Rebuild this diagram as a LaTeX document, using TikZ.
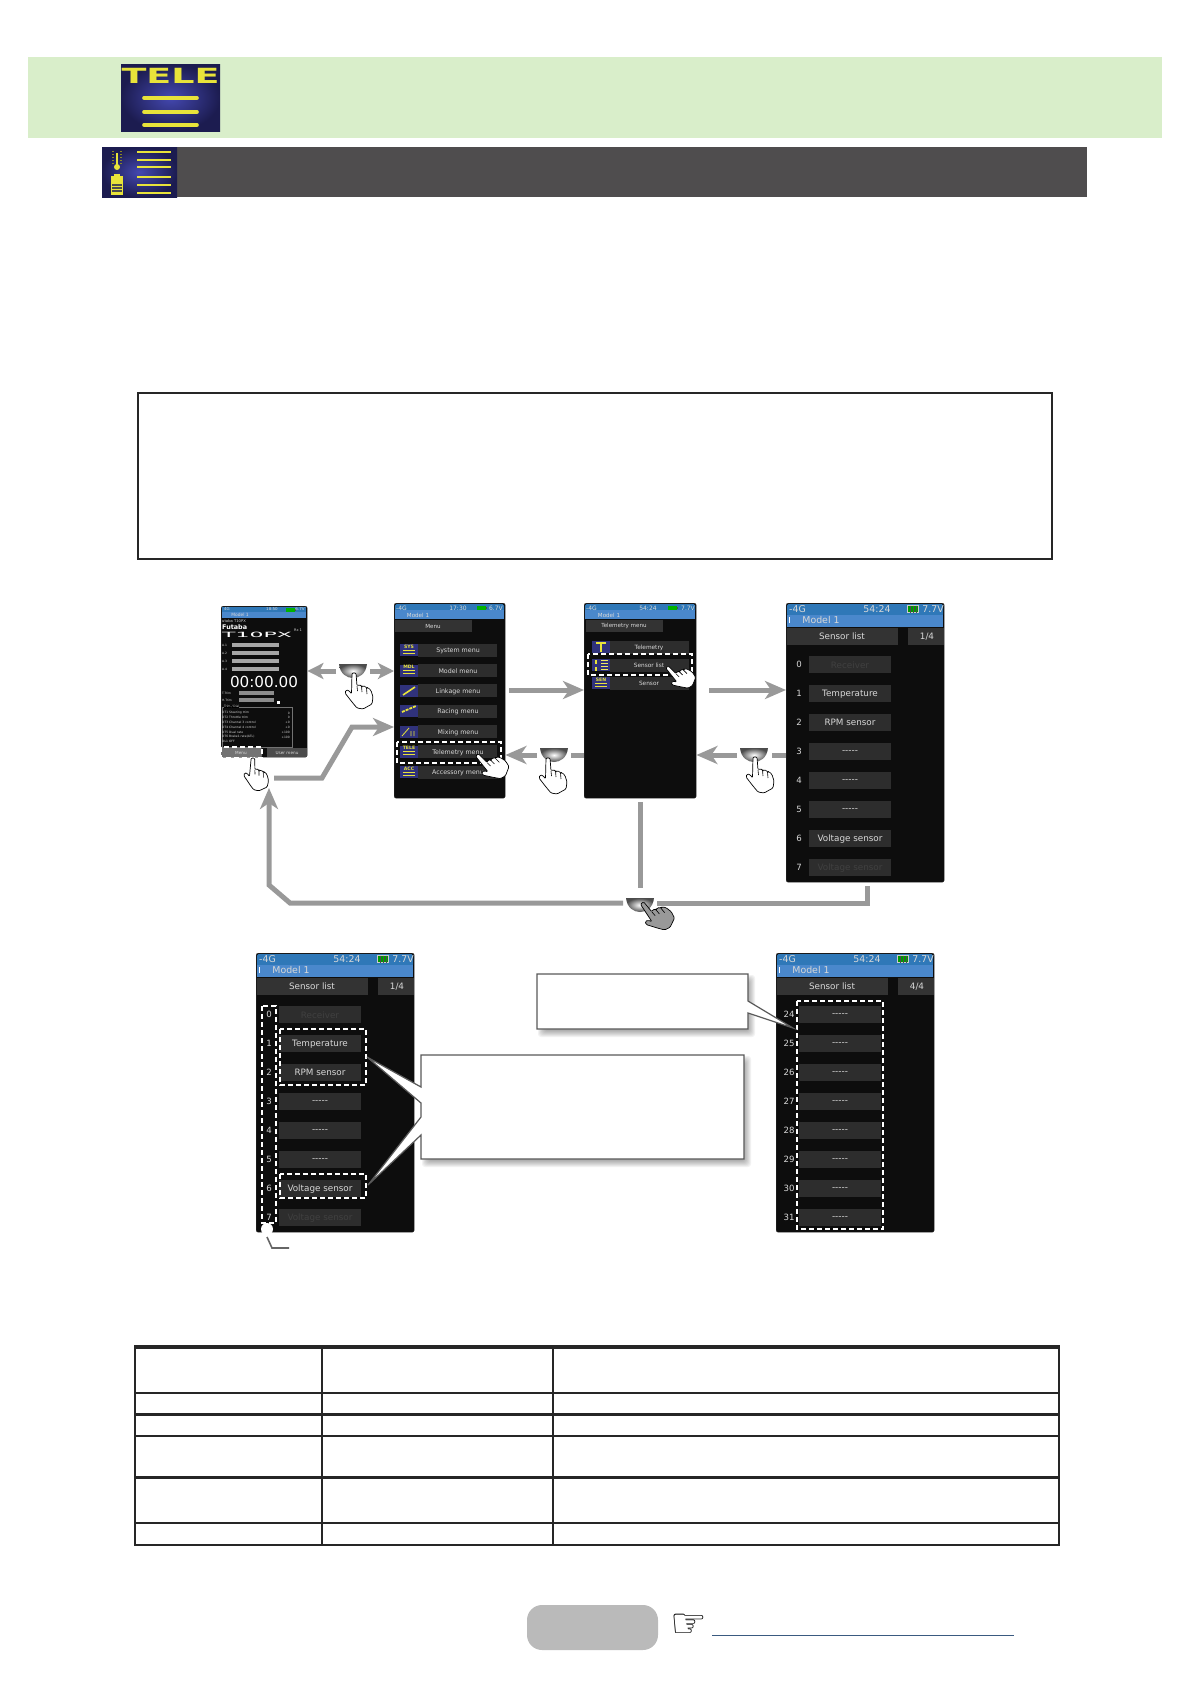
\documentclass[tikz,border=0pt]{standalone}
\usepackage{fontspec}
\setmainfont{DejaVu Sans}
\usepackage{tikz}
\usepackage{xcolor}
\usetikzlibrary{arrows.meta}
\definecolor{bandgreen}{HTML}{D9EECA}
\definecolor{bargrey}{HTML}{4F4D4E}
\definecolor{arrowgrey}{HTML}{999999}
\definecolor{statblue}{HTML}{2F78B8}
\definecolor{modblue}{HTML}{4A88CC}
\definecolor{tabgrey}{HTML}{333333}
\definecolor{rowgrey}{HTML}{2D2D2D}
\definecolor{dimgrey}{HTML}{404040}
\definecolor{scrtext}{HTML}{D8D8D8}
\definecolor{icyellow}{HTML}{E8E33A}
\definecolor{navyin}{HTML}{4448B0}
\definecolor{navyout}{HTML}{1C1C50}
\definecolor{reflink}{HTML}{3A5A80}
\tikzset{
  pics/hand/.style={code={
    \draw[line width=.7,fill=#1,rounded corners=1.2pt,line join=round] (-2,0) -- (2,0) -- (3,13) -- (5,11.5) -- (7.5,13) -- (8,14) -- (10,12.5) -- (12.5,15) -- (14,14.5) -- (17,17.5) -- (19,24) -- (18,31) -- (9,36) -- (3,35) -- (-2,29) -- (-9,20) -- (-8,17) -- (-5,17.5) -- (-2.5,21) -- cycle;
    \draw[line width=.6] (3,13) -- (3.5,18) (7.5,13) -- (8,19) (12.5,15) -- (13,21);
  }},
  pics/bowl/.style={code={
    \shade[outer color=black!70,inner color=white] (-14,-7) -- (14,-7) .. controls (13,3) and (6,7) .. (0,7) .. controls (-6,7) and (-13,3) .. (-14,-7) -- cycle;
  }},
  pics/batt/.style={code={
    \fill[green!70!black] (0,0) rectangle (9,4);
    \fill[black!70] (9,1) rectangle (10,3);
  }}
}
\begin{document}
\begin{tikzpicture}[x=1pt,y=-1pt,
  screen/.style={draw=black!80,fill=black!95,rounded corners=2pt,inner sep=0pt,anchor=north west},
  stxt/.style={inner sep=0pt,text=scrtext,font=\fontsize{#1}{#1}\selectfont},
  grayline/.style={draw=arrowgrey,line width=5pt},
  grayarrow/.style={draw=arrowgrey,line width=5pt,-{Stealth[length=21pt,width=18pt,inset=6pt]}},
  shortarrow/.style={draw=arrowgrey,line width=5pt,-{Stealth[length=16pt,width=16pt,inset=4pt]}},
  dashbox/.style={draw=white,line width=1.4pt,dash pattern=on 5pt off 3pt},
  callout/.style={draw=black!65,line width=1.2pt,fill=white}]
\useasboundingbox (0,0) rectangle (1190,1684);
% header
\fill[bandgreen] (28,57) rectangle (1162,138);
\shade[inner color=navyin,outer color=navyout] (121,64) rectangle (220,131);
\node[inner sep=0pt,text=icyellow,font=\fontsize{19}{19}\selectfont\bfseries] (teletitle) at (170.5,76) {\scalebox{1.92}[1.1]{TELE}};
\foreach \y in {98,112,125}
  \draw[icyellow,line width=3.6pt,line cap=round] (144,\y) -- (197,\y);
\fill[bargrey] (177,147) rectangle (1087,197);
\shade[inner color=navyin,outer color=navyout] (102,147) rectangle (177,197);
\draw[icyellow,line width=2.6pt] (117,153) -- (117,165);
\fill[icyellow] (117,167) circle (3pt);
\foreach \y in {151,154,157,160,163}
  \draw[icyellow!60!black,line width=.7pt] (112,\y) -- (114,\y) (120,\y) -- (122,\y);
\fill[icyellow] (111,176) rectangle (123,195);
\fill[icyellow] (114,174) rectangle (120,176);
\foreach \y in {185,188,191}
  \draw[black!70,line width=1.2pt] (112,\y) -- (122,\y);
\foreach \y in {152,160,167,177,185,193}
  \draw[icyellow,line width=1.7pt] (137,\y) -- (171,\y);
% note box
\draw[black!85,line width=2.4pt] (138,393) rectangle (1052,559);
% home screen
\node[screen,minimum width=86pt,minimum height=151pt] (scra) at (221,606) {};
\fill[statblue] (222,607) rectangle (306,612);
\fill[modblue] (222,612) rectangle (306,618);
\node[stxt=4,anchor=west] (agtxt) at (224,609) {4G};
\node[stxt=4] (atime) at (272,609) {18:50};
\pic at (286,607.5) {batt};
\node[stxt=4] (avolt) at (300,609) {6.7V};
\node[stxt=4.4] (amodel) at (240,615) {Model 1};
\node[stxt=3.7,anchor=west] (amodelname) at (222,621) {utaba T10PX};
\node[stxt=6.4,anchor=west,text=white,font=\fontsize{6.4}{7}\selectfont\bfseries] (afutaba) at (222,627) {Futaba};
\node[stxt=8,anchor=west,text=white] (atenpx) at (222,635) {\scalebox{2.75}[.9]{T10PX}};
\node[stxt=3.5] (arx) at (298,630) {Rx 1};
\foreach \y/\lab in {645/A.1,653/A.2,661/A.3,669/A.4} {
  \node[stxt=3,anchor=west] (ag\lab) at (222,\y) {\lab};
  \fill[black!35] (232,\y-1.7) rectangle (279,\y+1.7);
}
\node[stxt=15.2,text=white] (aclock) at (264,682) {00:00.00};
\foreach \y/\lab in {693/T.Trim,700/H.Trim} {
  \node[stxt=3,anchor=west] (at\lab) at (222,\y) {\lab};
  \fill[black!45] (239,\y-2) rectangle (274,\y+2);
}
\fill[white] (276.5,700.5) rectangle (279.5,703.5);
\draw[black!55,line width=.5pt] (222,707) rectangle (292,747);
\node[stxt=3,anchor=west,fill=black] (adial) at (224,706.5) {Trim / Dial};
\foreach \y/\lab/\val in {713/DT1 Steering trim/0,717.5/DT2 Throttle trim/0,722/DT3 Channel 3 control/+0,727/DT4 Channel 4 control/+0,732/DT5 Dual rate/+100,737/DT6 Brake1 rate(ATL)/+100,741.5/DL1 OFF/} {
  \node[stxt=3,anchor=west] (al\y) at (222,\y) {\lab};
  \node[stxt=3,anchor=east] (av\y) at (290,\y) {\val};
}
\fill[black!55,rounded corners=1pt] (221,748) rectangle (262,757);
\fill[black!70] (267,748) rectangle (307,757);
\node[stxt=4.2] (amenu) at (241,752.5) {Menu};
\node[stxt=4.2] (auser) at (287,752.5) {User menu};
\draw[dashbox] (221,747) rectangle (262,758);
% menu screen
\node[screen,minimum width=111pt,minimum height=195pt] (scrb) at (394,603) {};
\fill[statblue,rounded corners=1.5pt] (395,604) rectangle (504,612);
\fill[modblue] (395,610) rectangle (504,619);
\node[stxt=6,anchor=west] (bgtxt) at (396,608) {-4G};
\node[stxt=6] (btime) at (458,608) {17:30};
\pic at (477,606) {batt};
\node[stxt=6] (bvolt) at (496,608) {6.7V};
\node[stxt=5.6] (bmodel) at (418,615) {Model 1};
\fill[tabgrey] (395,620) rectangle (472,632);
\node[stxt=5.6] (bmenutab) at (433,626) {Menu};
\foreach \i/\ic/\lab in {0/SYS/System menu,1/MDL/Model menu,2/{}/Linkage menu,3/{}/Racing menu,4/{}/Mixing menu,5/TELE/Telemetry menu,6/ACC/Accessory menu} {
  \pgfmathsetmacro{\yy}{650.3+20.3*\i}
  \fill[rowgrey] (418,\yy-6.5) rectangle (497,\yy+6.5);
  \fill[navyin!70!black] (400,\yy-6) rectangle (418,\yy+6);
  \node[stxt=6.3] (blab\i) at (458,\yy+1) {\lab};
  \node[stxt=4.6,text=icyellow,font=\fontsize{4.6}{5}\selectfont\bfseries] (bic\i) at (409,\yy-3.5) {\ic};
}
\foreach \i in {0,1,5,6}
  \draw[icyellow,line width=.8pt] (403,650.3+20.3*\i) -- (415,650.3+20.3*\i) (403,653.3+20.3*\i) -- (415,653.3+20.3*\i);
\draw[icyellow,line width=1.6pt] (403,695) -- (415,687);
\draw[icyellow,line width=1.8pt,dash pattern=on 3pt off 1pt] (402,712) -- (416,706);
\draw[icyellow,line width=.8pt] (402,736) -- (409,728) (411,736) -- (411,731) (414,736) -- (414,731);
\draw[dashbox] (397,742) rectangle (501,763);
% telemetry screen
\node[screen,minimum width=112pt,minimum height=195pt] (scrc) at (584,603) {};
\fill[statblue,rounded corners=1.5pt] (585,604) rectangle (695,612);
\fill[modblue] (585,610) rectangle (695,619);
\node[stxt=6,anchor=west] (cgtxt) at (586,608) {-4G};
\node[stxt=6] (ctime) at (648,608) {54:24};
\pic at (668,606) {batt};
\node[stxt=6] (cvolt) at (688,608) {7.7V};
\node[stxt=5.6] (cmodel) at (609,615) {Model 1};
\fill[tabgrey] (586,620) rectangle (663,632);
\node[stxt=5.6] (ctab) at (624,626) {Telemetry menu};
\foreach \y/\ic/\lab in {647/{}/Telemetry,665/{}/Sensor list,683/SEN/Sensor} {
  \fill[rowgrey] (610,\y-6.5) rectangle (689,\y+6.5);
  \fill[navyin!70!black] (592,\y-6) rectangle (610,\y+6);
  \node[stxt=5.8] (clab\y) at (649,\y+.5) {\lab};
  \node[stxt=4.6,text=icyellow,font=\fontsize{4.6}{5}\selectfont\bfseries] (cic\y) at (601,\y-3.5) {\ic};
}
\draw[icyellow,line width=2pt] (596,643) -- (606,643) (601,643) -- (601,652);
\foreach \y in {660,663,666,669}
  \draw[icyellow!80!white,line width=.8pt] (601,\y) -- (608,\y);
\draw[icyellow,line width=2pt] (596,660) -- (596,664) (596,667) -- (596,671);
\draw[icyellow,line width=.8pt] (595,683) -- (607,683) (595,686) -- (607,686);
\draw[dashbox] (588,654) rectangle (692,675);
% sensor list screens
\foreach \sx/\sy/\nm/\pg/\rows in {
  0/0/d/1\slash 4/{0/Receiver/dimgrey,1/Temperature/scrtext,2/RPM sensor/scrtext,3/-{}-{}-{}-{}-/scrtext,4/-{}-{}-{}-{}-/scrtext,5/-{}-{}-{}-{}-/scrtext,6/Voltage sensor/scrtext,7/Voltage sensor/dimgrey},
  -530/350/e/1\slash 4/{0/Receiver/dimgrey,1/Temperature/scrtext,2/RPM sensor/scrtext,3/-{}-{}-{}-{}-/scrtext,4/-{}-{}-{}-{}-/scrtext,5/-{}-{}-{}-{}-/scrtext,6/Voltage sensor/scrtext,7/Voltage sensor/dimgrey},
  -10/350/f/4\slash 4/{24/-{}-{}-{}-{}-/scrtext,25/-{}-{}-{}-{}-/scrtext,26/-{}-{}-{}-{}-/scrtext,27/-{}-{}-{}-{}-/scrtext,28/-{}-{}-{}-{}-/scrtext,29/-{}-{}-{}-{}-/scrtext,30/-{}-{}-{}-{}-/scrtext,31/-{}-{}-{}-{}-/scrtext}} {
\begin{scope}[shift={(\sx,\sy)}]
  \node[screen,minimum width=158pt,minimum height=279pt] (scr\nm) at (786,603) {};
  \fill[statblue,rounded corners=1.5pt] (787,604) rectangle (943,616);
  \fill[modblue] (787,615) rectangle (943,627);
  \node[stxt=9.4,anchor=west] (g\nm) at (789,609) {-4G};
  \node[stxt=9.4] (t\nm) at (877,609) {54:24};
  \draw[white!80!black,line width=.7pt,fill=green!60!black] (907,605.5) rectangle (918,612.5);
  \foreach \bx in {910,913,916}
    \draw[black!70,line width=.6pt] (\bx,605.5) -- (\bx,612.5);
  \node[stxt=9.4] (v\nm) at (933,609) {7.7V};
  \draw[white,line width=.8pt] (789,617) -- (789,623);
  \node[stxt=9.4] (m\nm) at (821,620) {Model 1};
  \fill[tabgrey] (787,628) rectangle (898,645);
  \fill[tabgrey] (908,628) rectangle (944,645);
  \node[stxt=8.8] (l\nm) at (842,636) {Sensor list};
  \node[stxt=8.8] (p\nm) at (927,637) {\pg};
  \foreach \n/\lab/\col [count=\k from 0] in \rows {
    \pgfmathsetmacro{\yy}{664+29*\k}
    \fill[rowgrey] (809,\yy-8.5) rectangle (891,\yy+8.5);
    \node[stxt=8.6] (n\nm\k) at (799,\yy) {\n};
    \node[stxt=8.8,text=\col] (b\nm\k) at (850,\yy+.8) {\lab};
  }
\end{scope}
}
\draw[dashbox] (262,1006) rectangle (276,1223);
\draw[dashbox] (280,1029) rectangle (366,1085);
\draw[dashbox] (280,1174) rectangle (366,1198);
\draw[dashbox] (797,1001) rectangle (883,1229);
% leader of the list
\fill[white] (267,1229) circle (6pt);
\coordinate (leadbend) at (272,1248);
\coordinate (leadend) at (289,1248);
\draw[black!60,line width=1.6pt] (267,1237) -- (leadbend) -- (leadend);
% callouts
\foreach \s in {1,...,9} {
  \fill[black,opacity=.05,rounded corners=3pt] (537+10-\s,974+10-\s) rectangle (748+\s-2,1029+\s-1);
  \fill[black,opacity=.05,rounded corners=3pt] (421+10-\s,1055+10-\s) rectangle (744+\s-2,1159+\s-1);
}
\draw[callout] (537,974) -- (748,974) -- (748,1001) -- (793,1028) -- (748,1013) -- (748,1029) -- (537,1029) -- cycle;
\draw[callout] (421,1055) -- (744,1055) -- (744,1159) -- (421,1159) -- (421,1135) -- (368,1185) -- (421,1117) -- (421,1103) -- (367,1057) -- (421,1087) -- cycle;
% arrows of the upper row
\pic (bowla) at (353,671) {bowl};
\pic (handa) at (354,673) {hand=white};
\coordinate (aleft) at (336,671);
\coordinate (aright) at (370,671);
\draw[shortarrow] (aleft) -- (scra.east |- aleft);
\draw[shortarrow] (aright) -- (scrb.west |- aright);
\coordinate (menuturn) at (274,778);
\coordinate (menubenda) at (322,778);
\coordinate (menubendb) at (352,727);
\draw[grayarrow] (menuturn) -- (menubenda) -- (menubendb) -- (scrb.west |- menubendb);
\coordinate (nextb) at (509,690);
\coordinate (nextc) at (709,690);
\draw[grayarrow] (nextb) -- (scrc.west |- nextb);
\draw[grayarrow] (nextc) -- (scrd.west |- nextc);
% back buttons
\pic (bowlb) at (554,755) {bowl};
\pic (handb) at (548,758) {hand=white};
\coordinate (backb) at (537,755);
\coordinate (stubb) at (571,755);
\draw[grayarrow] (backb) -- (scrb.east |- backb);
\draw[grayline] (stubb) -- (scrc.west |- stubb);
\pic (bowlc) at (754,755) {bowl};
\pic (handc) at (755,757) {hand=white};
\coordinate (backc) at (737,755);
\coordinate (stubc) at (772,755);
\draw[grayarrow] (backc) -- (scrc.east |- backc);
\draw[grayline] (stubc) -- (scrd.west |- stubc);
% bottom return
\coordinate (retjoin) at (623,903);
\coordinate (retbenda) at (290,903);
\coordinate (retbendb) at (269,885);
\coordinate (rettip) at (269,788);
\draw[grayarrow] (retjoin) -- (retbenda) -- (retbendb) -- (rettip);
\coordinate (stemtop) at (640,802);
\coordinate (stembot) at (640,888);
\draw[grayline] (stemtop) -- (stembot);
\coordinate (rightjoin) at (657,903);
\coordinate (rightbend) at (867,903);
\coordinate (righttop) at (867,886);
\draw[grayline] (rightjoin) -- (rightbend) -- (righttop);
\pic (bowld) at (640,905) {bowl};
\pic[rotate=35] (handd) at (642,903) {hand=arrowgrey};
% finger presses
\pic[scale=.9,rotate=-4] (hande) at (253,758) {hand=white};
\pic[scale=.95,rotate=40] (handf) at (477,755) {hand=white};
\pic[scale=.85,rotate=40] (handg) at (667,667) {hand=white};
% settings table
\foreach \y/\w in {1347/4.5,1393/2,1414/3,1436/2.5,1477/3,1523/2,1545/2}
  \draw[black!85,line width=\w pt] (134,\y) -- (1059,\y);
\foreach \x/\w in {134.5/2,322/1.8,553/1.6,1058.5/2}
  \draw[black!85,line width=\w pt] (\x,1345) -- (\x,1546);
% page foot
\fill[black!27,rounded corners=15pt] (527,1605) rectangle (658,1650);
\node[inner sep=0pt,font=\fontsize{41}{41}\selectfont] (pointer) at (689,1626) {☞};
\coordinate (refleft) at (712,1635);
\coordinate (refright) at (1014,1635);
\draw[reflink,line width=1pt] (refleft) -- (refright);
\end{tikzpicture}
\end{document}
